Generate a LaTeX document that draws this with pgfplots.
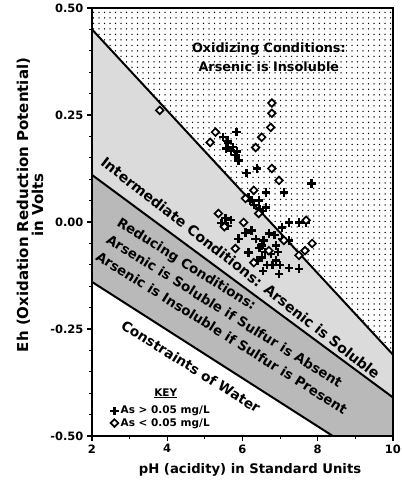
\documentclass[border=0pt]{standalone}
\usepackage{fontspec}
\setmainfont{DejaVu Sans}
\usepackage{pgfplots}
\pgfplotsset{compat=1.18}
\usetikzlibrary{patterns.meta}
\newcommand{\fs}[1]{\fontsize{#1}{#1}\selectfont}
\pgfdeclareplotmark{bigplus}{%
  \pgfsetlinewidth{2.3pt}\pgfsetbuttcap
  \pgfpathmoveto{\pgfqpoint{-\pgfplotmarksize}{0pt}}\pgfpathlineto{\pgfqpoint{\pgfplotmarksize}{0pt}}%
  \pgfpathmoveto{\pgfqpoint{0pt}{-\pgfplotmarksize}}\pgfpathlineto{\pgfqpoint{0pt}{\pgfplotmarksize}}%
  \pgfusepathqstroke}
\pgfdeclareplotmark{bigdiamond}{%
  \pgfsetlinewidth{1.7pt}\pgfsetfillcolor{white}%
  \pgfpathmoveto{\pgfqpoint{0pt}{\pgfplotmarksize}}\pgfpathlineto{\pgfqpoint{\pgfplotmarksize}{0pt}}%
  \pgfpathlineto{\pgfqpoint{0pt}{-\pgfplotmarksize}}\pgfpathlineto{\pgfqpoint{-\pgfplotmarksize}{0pt}}\pgfpathclose
  \pgfusepathqfillstroke}
\begin{document}
\begin{tikzpicture}
\begin{axis}[
  scale only axis, width=301pt, height=428pt,
  xmin=2, xmax=10, ymin=-0.5, ymax=0.5,
  axis on top, axis line style={line width=1.8pt},
  tick pos=left, tick align=outside,
  major tick length=5pt, minor tick length=3pt,
  every tick/.style={line width=1.2pt, black},
  xtick={2,4,6,8,10}, xticklabels={2,4,6,8,10},
  minor xtick={3,5,7,9},
  ytick={-0.5,-0.25,0,0.25,0.5}, yticklabels={-0.50,-0.25,0.00,0.25,0.50},
  minor ytick={-0.45,-0.4,-0.35,-0.3,-0.2,-0.15,-0.1,-0.05,0.05,0.1,0.15,0.2,0.3,0.35,0.4,0.45},
  ticklabel style={font=\bfseries\fs{11.5}},
  xlabel={pH (acidity) in Standard Units},
  xlabel style={font=\bfseries\fs{13.2}, at={(axis description cs:0.525,0)}, anchor=north, yshift=-24pt},
  ylabel={Eh (Oxidation Reduction Potential)\\in Volts},
  ylabel style={font=\bfseries\fs{15}, align=center, at={(axis description cs:-0.206,0.54)}, anchor=center, rotate=0},
  legend style={at={(axis description cs:0.06,0.075)}, anchor=north west, draw=none, fill=none,
    font=\bfseries\fs{10.5}, row sep=-1pt, inner sep=0pt},
  legend cell align=left,
]
% regions
\addplot[draw=none, pattern={Dots[distance=5.5pt, radius=0.75pt]}, forget plot]
  coordinates {(2,0.45) (2,0.5) (10,0.5) (10,-0.31)} -- cycle;
\addplot[draw=none, fill=gray!28, forget plot]
  coordinates {(2,0.45) (10,-0.31) (10,-0.41) (2,0.11)} -- cycle;
\addplot[draw=none, fill=gray!55, forget plot]
  coordinates {(2,0.11) (10,-0.41) (10,-0.5) (8.4,-0.5) (2,-0.14)} -- cycle;
% boundaries
\addplot[black, line width=2pt, forget plot] coordinates {(2,0.45) (10,-0.31)};
\addplot[black, line width=2pt, forget plot] coordinates {(2,0.11) (10,-0.41)};
\addplot[black, line width=2pt, forget plot] coordinates {(2,-0.14) (8.4,-0.5)};
% data
\addplot[only marks, mark=bigplus, mark size=4.2pt, black] coordinates {
(5.84,0.210) (5.49,0.198) (5.62,0.184) (5.70,0.167) (5.81,0.156) (5.89,0.144)
(5.57,0.172) (6.11,0.114) (6.38,0.125) (7.10,0.069) (7.83,0.090) (6.62,0.069)
(6.16,0.057) (6.43,0.050) (6.62,0.034) (7.23,-0.001) (7.05,-0.013) (7.50,-0.001)
(7.69,-0.001) (6.70,-0.027) (6.24,-0.020) (6.08,-0.025) (6.51,-0.055) (6.89,-0.055)
(7.23,-0.043) (6.16,-0.071) (6.51,-0.083) (6.89,-0.090) (7.23,-0.107) (6.97,-0.121)
(7.50,-0.109) (5.70,0.004) (5.44,-0.003) (5.89,-0.039) (6.56,-0.043)
(6.35,-0.040) (6.45,-0.060) (6.60,-0.070) (6.75,-0.075) (6.80,-0.100) (6.65,-0.100)
(6.95,-0.070) (7.00,-0.100) (6.40,-0.090) (6.55,-0.115) (7.05,-0.040) (6.85,-0.030)
(6.20,0.050) (6.30,0.040) (6.45,0.030) (6.55,0.025) (5.60,0.190) (5.75,0.175)
(5.85,0.165) (5.55,0.010) (5.60,-0.010)
};
\addlegendentry{As > 0.05 mg/L}
\addplot[only marks, mark=bigdiamond, mark size=3.8pt, black] coordinates {
(3.80,0.261) (6.78,0.278) (6.78,0.254) (6.75,0.221) (6.51,0.198) (6.35,0.174)
(5.28,0.210) (5.14,0.186) (6.78,0.125) (6.97,0.097) (5.36,0.020) (5.52,-0.011)
(6.30,0.074) (6.08,0.055) (6.43,0.020) (7.69,0.004) (7.85,-0.050) (7.66,-0.067)
(7.50,-0.078) (6.30,-0.095) (6.70,-0.067) (5.81,-0.062) (7.10,-0.043) (6.03,-0.001)
};
\addlegendentry{As < 0.05 mg/L}
% texts
\node[font=\bfseries\fs{12.8}, align=center, text depth=0pt, inner sep=0pt, execute at begin node=\setlength{\baselineskip}{19pt}]
  at (axis cs:6.70,0.385) {Oxidizing Conditions:\\Arsenic is Insoluble};
\node[font=\bfseries\fs{14.2}, rotate=-38, inner sep=0pt]
  at (axis cs:5.95,-0.107) {Intermediate Conditions: Arsenic is Soluble};
\node[font=\bfseries\fs{13.4}, rotate=-32, align=left, anchor=north west, inner sep=0pt, execute at begin node=\setlength{\baselineskip}{20pt}]
  at (axis cs:2.78,0.013) {Reducing Conditions:\\Arsenic is Soluble if Sulfur is Absent\\Arsenic is Insoluble if Sulfur is Present};
\node[font=\bfseries\fs{13.7}, rotate=-32, inner sep=0pt]
  at (axis cs:4.63,-0.338) {Constraints of Water};
\node[font=\bfseries\fs{10.5}, inner sep=0pt]
  at (axis cs:3.96,-0.40) {\underline{KEY}};
\end{axis}
\pgfresetboundingbox
\path ([shift={(-92pt,-55pt)}]current axis.south west) rectangle ([shift={(9pt,8pt)}]current axis.north east);
\end{tikzpicture}
\end{document}
